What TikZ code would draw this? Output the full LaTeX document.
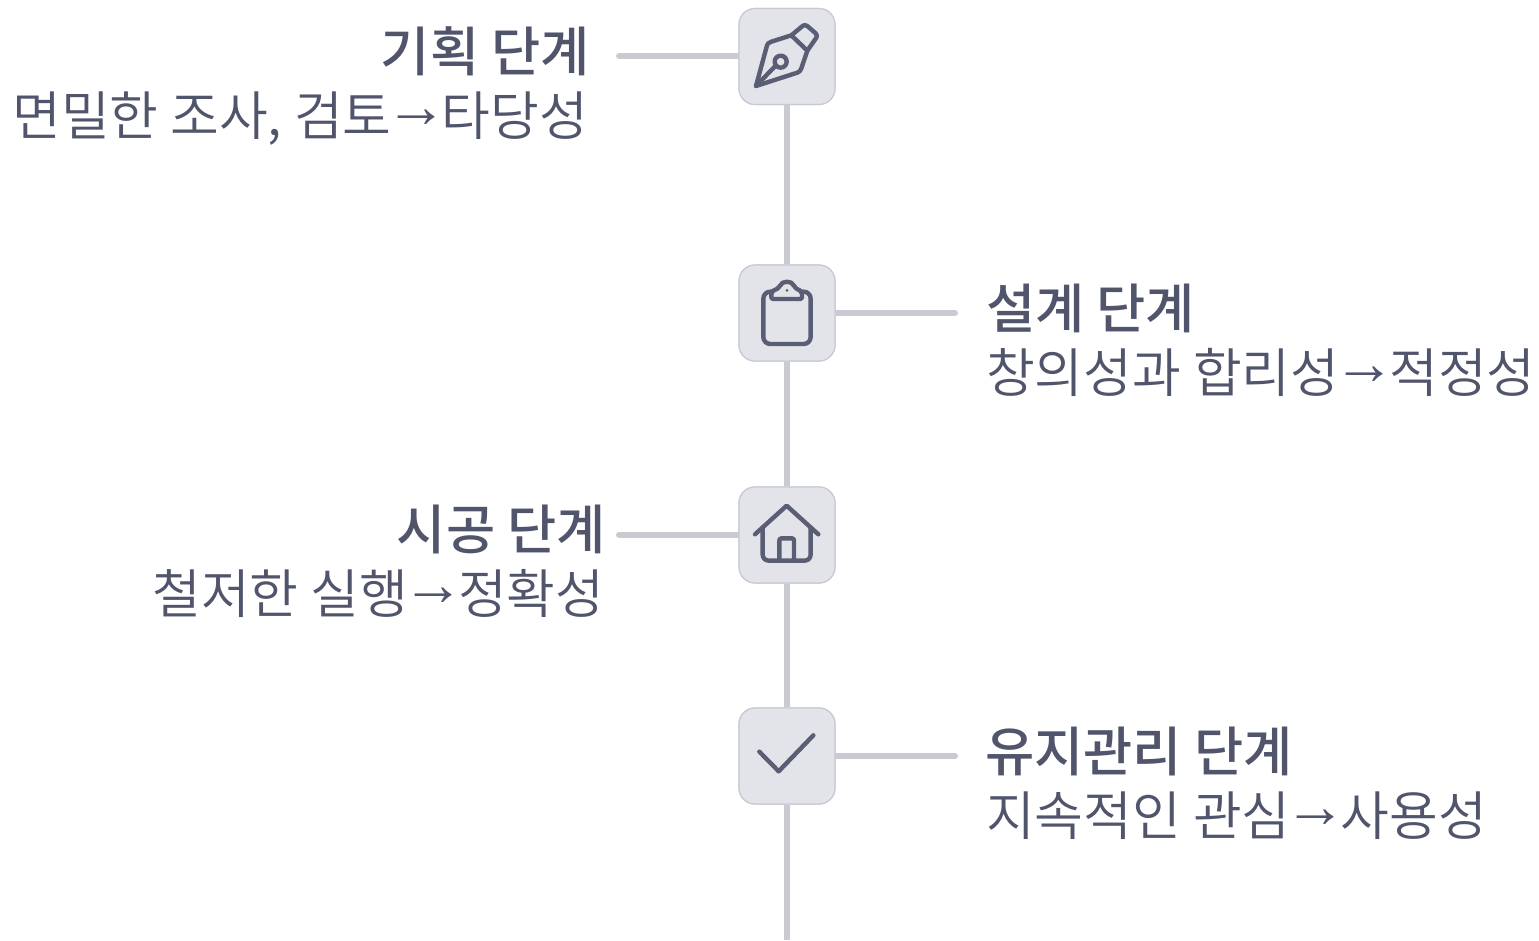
\documentclass[tikz,border=0pt]{standalone}
\usepackage{fontspec}
\setmainfont{Noto Sans CJK KR DemiLight}
\newfontfamily\krmed{Noto Sans CJK KR Medium}
\newfontfamily\arrowfont{Liberation Sans}
\definecolor{linec}{HTML}{CACAD2}
\definecolor{boxfill}{HTML}{E3E4EA}
\definecolor{boxedge}{HTML}{C9C9D3}
\definecolor{inkc}{HTML}{5A5E74}
\definecolor{txtc}{HTML}{50556C}
\newcommand{\arr}{\hspace{-6pt}\raisebox{8pt}{\arrowfont\fontsize{62pt}{62pt}\selectfont →}\hspace{-6pt}}
\tikzset{
  stepbox/.style={draw=boxedge,fill=boxfill,line width=1.2pt,rounded corners=16pt,minimum width=96pt,minimum height=96pt,inner sep=0pt},
  link/.style={draw=linec,line width=6pt,line cap=round},
  spine/.style={draw=linec,line width=6pt},
  icon/.style={draw=inkc,line width=4.4pt,line join=round,line cap=round},
  head/.style={font=\krmed\fontsize{53.5pt}{53.5pt}\selectfont,text=txtc,inner sep=0pt},
  sub/.style={font=\fontsize{53pt}{53pt}\selectfont,text=txtc,inner sep=0pt},
}
\begin{document}
\begin{tikzpicture}[x=1pt,y=-1pt]
\useasboundingbox (0,0) rectangle (1539,940);
\coordinate (e1) at (619,56);
\coordinate (e2) at (955,313);
\coordinate (e3) at (619,535);
\coordinate (e4) at (955,756);
\coordinate (bot) at (787,940);
\node[stepbox] (b1) at (787,56.5) {};
\node[stepbox] (b2) at (787,313) {};
\node[stepbox] (b3) at (787,535) {};
\node[stepbox] (b4) at (787,756) {};
\draw[link] (e1) -- (e1 -| b1.west);
\draw[link] (e2) -- (b2.east);
\draw[link] (e3) -- (b3.west);
\draw[link] (e4) -- (b4.east);
\draw[spine] (b1) -- (b2);
\draw[spine] (b2) -- (b3);
\draw[spine] (b3) -- (b4);
\draw[spine] (b4) -- (bot);
\node[stepbox] at (b1) {};
\node[stepbox] at (b2) {};
\node[stepbox] at (b3) {};
\node[stepbox] at (b4) {};
% pen
\begin{scope}[shift={(730pt,0pt)},x=0.3333pt,y=-0.3333pt]
\draw[icon] (78,258) -- (110,140) .. controls (112,130) and (118,127) .. (124,125) -- (184,106) -- (232,152) -- (214,205) .. controls (212,212) and (208,216) .. (202,218) -- cycle;
\draw[icon,rounded corners=3pt] (184,106) -- (225,72) -- (264,106) -- (232,152);
\draw[icon] (78,258) -- (136,198);
\draw[icon] (152,185) circle (18);
\end{scope}
% clipboard
\begin{scope}[shift={(730pt,-255pt)},x=0.3333pt,y=-0.3333pt]
\draw[icon,rounded corners=7pt] (124,110) -- (100,110) -- (100,267) -- (242,267) -- (242,110) -- (218,110);
\draw[icon,rounded corners=2pt] (124,132) -- (124,110) -- (148,98) .. controls (156,76) and (186,76) .. (194,98) -- (216,110) -- (216,132) -- cycle;
\fill[inkc] (171,106) circle (4.5);
\end{scope}
% house
\begin{scope}[shift={(730pt,-475pt)},x=0.3333pt,y=-0.3333pt]
\draw[icon] (75,178) -- (170,92) -- (265,178);
\draw[icon,rounded corners=6pt] (98,158) -- (98,257) -- (242,257) -- (242,158);
\draw[icon,rounded corners=2pt] (148,257) -- (148,190) -- (192,190) -- (192,257);
\end{scope}
% check
\begin{scope}[shift={(730pt,-700pt)},x=0.3333pt,y=-0.3333pt]
\draw[icon] (88,155) -- (146,214) -- (250,106);
\end{scope}
\node[head,anchor=base east] (t1) at (590,71) {기획 단계};
\node[sub,anchor=base east] (s1) at (588,135) {면밀한 조사, 검토\arr 타당성};
\node[head,anchor=base west] (t2) at (986,328) {설계 단계};
\node[sub,anchor=base west] (s2) at (986,392) {창의성과 합리성\arr 적정성};
\node[head,anchor=base east] (t3) at (606,549) {시공 단계};
\node[sub,anchor=base east] (s3) at (604.5,613) {철저한 실행\arr 정확성};
\node[head,anchor=base west] (t4) at (985,771) {유지관리 단계};
\node[sub,anchor=base west] (s4) at (986,835) {지속적인 관심\arr 사용성};
\end{tikzpicture}
\end{document}
